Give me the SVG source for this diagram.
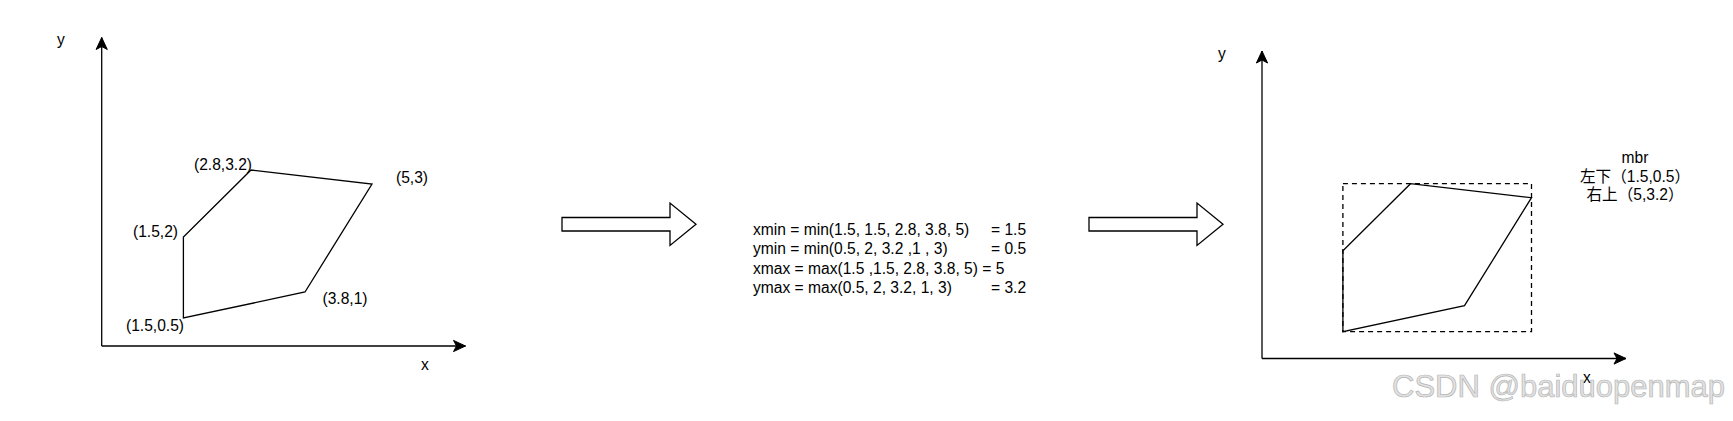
<svg xmlns="http://www.w3.org/2000/svg" width="1733" height="421" viewBox="0 0 1733 421">
<style>
  text { font-family: "Liberation Sans", Arial, "Noto Sans CJK SC", sans-serif; font-size: 15.6px; fill: #000; }
  .lbl { text-anchor: middle; }
  .shape { fill: #fff; stroke: #000; stroke-width: 1.3; stroke-linejoin: miter; }
  .axis { fill: none; stroke: #000; stroke-width: 1.3; }
  .dash { fill: none; stroke: #000; stroke-width: 1.3; stroke-dasharray: 5 4; }
  .wm { font-size: 31px; fill: #e2e2e2; stroke: #b5b5b5; stroke-width: 0.7; }
</style>
<defs>
  <marker id="ah" viewBox="-13 -7 14 14" refX="0" refY="0" markerWidth="14" markerHeight="14" markerUnits="userSpaceOnUse" orient="auto">
    <path d="M0,0 L-12,-5.6 L-9,0 L-12,5.6 Z" fill="#000" stroke="#000" stroke-width="1"/>
  </marker>
</defs>
<rect x="0" y="0" width="1733" height="421" fill="#fff"/>

<g id="connectors">
  <path class="axis" d="M101.7,346 L101.7,37.5" marker-end="url(#ah)"/>
  <path class="axis" d="M101.7,346 L465.5,346" marker-end="url(#ah)"/>
  <path class="axis" d="M1262,358.5 L1262,51" marker-end="url(#ah)"/>
  <path class="axis" d="M1262,358.5 L1626,358.5" marker-end="url(#ah)"/>
</g>

<g id="left-axis-labels">
  <text class="lbl" x="61" y="45">y</text>
  <text class="lbl" x="425" y="370">x</text>
</g>

<g id="left-polygon">
  <polygon class="shape" points="183.4,318 183.4,237 251,170 372,184 305,292"/>
  <text class="lbl" x="223" y="169.5">(2.8,3.2)</text>
  <text class="lbl" x="412" y="183">(5,3)</text>
  <text class="lbl" x="155.5" y="236.5">(1.5,2)</text>
  <text class="lbl" x="345" y="304">(3.8,1)</text>
  <text class="lbl" x="155" y="330.5">(1.5,0.5)</text>
</g>

<g id="arrow1">
  <path class="shape" d="M562,217.5 L670,217.5 L670,203 L696,224.3 L670,245.5 L670,231 L562,231 Z"/>
</g>

<g id="formula">
  <text x="753" y="235">xmin = min(1.5, 1.5, 2.8, 3.8, 5)<tspan x="991">= 1.5</tspan></text>
  <text x="753" y="254.4">ymin = min(0.5, 2, 3.2 ,1 , 3)<tspan x="991">= 0.5</tspan></text>
  <text x="753" y="273.8">xmax = max(1.5 ,1.5, 2.8, 3.8, 5) = 5</text>
  <text x="753" y="293.2">ymax = max(0.5, 2, 3.2, 1, 3)<tspan x="991">= 3.2</tspan></text>
</g>

<g id="arrow2">
  <path class="shape" d="M1089,217.5 L1197,217.5 L1197,203 L1223,224.3 L1197,245.5 L1197,231 L1089,231 Z"/>
</g>

<g id="right-axis-labels">
  <text class="lbl" x="1222" y="58.5">y</text>
  <text class="lbl" x="1587" y="383">x</text>
</g>

<g id="mbr-rect">
  <rect class="dash" x="1342.9" y="183.7" width="188.6" height="148"/>
</g>

<g id="right-polygon">
  <polygon class="shape" style="fill:none" points="1342.9,331.7 1342.9,250.7 1410.5,183.7 1531.5,197.7 1464.5,305.7"/>
</g>

<g id="mbr-label">
  <text class="lbl" x="1635" y="163">mbr</text>
  <text class="lbl" x="1635" y="181.7">左下（1.5,0.5）</text>
  <text class="lbl" x="1635" y="200.4">右上（5,3.2）</text>
</g>

<text class="wm" x="1392" y="397">CSDN @baiduopenmap</text>
</svg>
